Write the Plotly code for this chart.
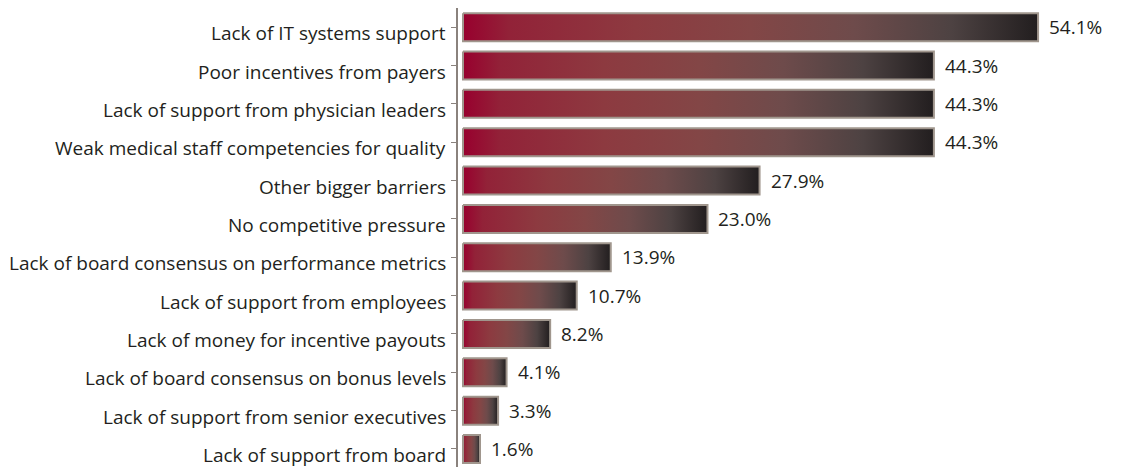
import plotly.graph_objects as go

# Survey responses: barriers to quality-based incentive programs
categories = [
    "Lack of IT systems support",
    "Poor incentives from payers",
    "Lack of support from physician leaders",
    "Weak medical staff competencies for quality",
    "Other bigger barriers",
    "No competitive pressure",
    "Lack of board consensus on performance metrics",
    "Lack of support from employees",
    "Lack of money for incentive payouts",
    "Lack of board consensus on bonus levels",
    "Lack of support from senior executives",
    "Lack of support from board",
]
values = [54.1, 44.3, 44.3, 44.3, 27.9, 23.0, 13.9, 10.7, 8.2, 4.1, 3.3, 1.6]
value_labels = ["54.1%", "44.3%", "44.3%", "44.3%", "27.9%", "23.0%",
                "13.9%", "10.7%", "8.2%", "4.1%", "3.3%", "1.6%"]

FONT = "Open Sans"
TEXT = "#231f20"
HALF = 0.365  # half bar thickness in category units

gradient = [
    [0.0, "#98002e"],
    [0.08, "#922238"],
    [0.3, "#8d3a40"],
    [0.5, "#834646"],
    [0.68, "#6e4b4b"],
    [0.85, "#4d4242"],
    [1.0, "#221e1f"],
]

fig = go.Figure()
for i, v in enumerate(values):
    fig.add_trace(go.Scatter(
        x=[0, v, v, 0, 0],
        y=[i - HALF, i - HALF, i + HALF, i + HALF, i - HALF],
        mode="lines",
        fill="toself",
        fillgradient=dict(type="horizontal", colorscale=gradient),
        line=dict(color="#a0968d", width=2),
        hoverinfo="skip",
        showlegend=False,
    ))

annotations = []
for i, (c, v, lab) in enumerate(zip(categories, values, value_labels)):
    annotations.append(dict(
        x=0, xref="paper", y=i, yref="y", text=c, showarrow=False,
        xanchor="right", yanchor="middle", xshift=-10, yshift=-6,
        font=dict(family=FONT, size=19, color=TEXT),
    ))
    annotations.append(dict(
        x=v, xref="x", y=i, yref="y", text=lab, showarrow=False,
        xanchor="left", yanchor="middle", xshift=9, yshift=0,
        font=dict(family=FONT, size=19, color=TEXT),
    ))

fig.update_layout(
    width=1145, height=467,
    margin=dict(l=458, r=0, t=8, b=0),
    paper_bgcolor="white", plot_bgcolor="white",
    annotations=annotations,
    xaxis=dict(range=[-0.47, 64.16], visible=False, fixedrange=True),
    yaxis=dict(
        range=[11.47, -0.5],
        tickvals=list(range(len(categories))),
        showticklabels=False,
        ticks="outside", ticklen=5, tickcolor="#8a827d", tickwidth=1,
        showline=True, linecolor="#8a827d", linewidth=1.5,
        showgrid=False, zeroline=False, fixedrange=True,
    ),
)

fig.write_html("out.html")
